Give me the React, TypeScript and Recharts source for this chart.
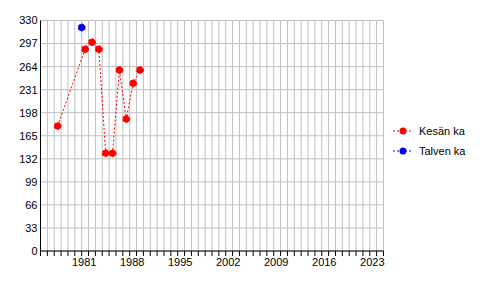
import { LineChart, Line, XAxis, YAxis, CartesianGrid } from 'recharts';

// kesän (summer) means, plotted mid-year
const summerYears = [1977, 1981, 1982, 1983, 1984, 1985, 1986, 1987, 1988, 1989];
const summerValues = [179, 289, 299, 289, 140, 140, 259, 189, 240, 259];
// talven (winter) means, plotted at the turn of the year
const winterYears = [1981];
const winterValues = [320];

const yTicks = [0, 33, 66, 99, 132, 165, 198, 231, 264, 297, 330];
const labelYears = [1981, 1988, 1995, 2002, 2009, 2016, 2023];
const firstYear = 1975;
const lastYear = 2025;

const yearTicks: number[] = [];
for (let y = firstYear; y <= lastYear; y++) yearTicks.push(y);

const summerData = summerYears.map((year, i) => ({ x: year + 0.5, value: summerValues[i] }));
const winterData = winterYears.map((year, i) => ({ x: year, value: winterValues[i] }));

const FONT = '"Liberation Sans", Arial, sans-serif';

const YearTick = (props: any) => {
  const { x, y, payload } = props;
  if (!labelYears.includes(payload.value)) return null;
  return (
    <text x={x + 2.5} y={y} dy="0.71em" textAnchor="middle" fontSize={11} fontFamily={FONT} fill="#000">
      {payload.value}
    </text>
  );
};

const legendItems = [
  { name: 'Kesän ka', color: '#ff0000' },
  { name: 'Talven ka', color: '#0000ff' },
];

const LegendBox = () => (
  <svg width={100} height={40} style={{ position: 'absolute', left: 391, top: 120.5 }}>
    {legendItems.map((item, i) => (
      <g key={item.name} transform={`translate(0, ${10 + i * 20})`}>
        <line x1={2} x2={22} y1={0} y2={0} stroke={item.color} strokeDasharray="2 2" />
        <circle cx={12} cy={0} r={3.5} fill={item.color} />
        <text x={28} y={0} dy="0.35em" fontSize={11} fontFamily={FONT} fill="#000">
          {item.name}
        </text>
      </g>
    ))}
  </svg>
);

const App = () => {
  return (
    <div style={{ position: 'absolute', left: 0, top: 0, width: 496, height: 296, background: '#fff' }}>
      <LineChart width={496} height={296} margin={{ top: 20.5, right: 112.5, left: 0, bottom: 15 }}>
        <CartesianGrid stroke="#c0c0c0" strokeWidth={1} />
        <XAxis
          type="number"
          dataKey="x"
          domain={[firstYear, lastYear]}
          ticks={yearTicks}
          interval={0}
          allowDataOverflow
          tick={<YearTick />}
          tickSize={5}
          tickMargin={2}
          height={30}
          axisLine={{ stroke: '#000' }}
          tickLine={{ stroke: '#000' }}
        />
        <XAxis
          xAxisId="top"
          orientation="top"
          type="number"
          domain={[firstYear, lastYear]}
          height={0}
          tick={false}
          tickLine={false}
          axisLine={{ stroke: '#000' }}
        />
        <YAxis
          domain={[0, 330]}
          ticks={yTicks}
          interval={0}
          width={40.5}
          tickLine={false}
          tickSize={0}
          tickMargin={3}
          axisLine={{ stroke: '#000' }}
          tick={{ fontSize: 11, fontFamily: FONT, fill: '#000' }}
        />
        <YAxis
          yAxisId="right"
          orientation="right"
          domain={[0, 330]}
          width={0}
          tick={false}
          tickLine={false}
          axisLine={{ stroke: '#000' }}
        />
        <Line
          data={summerData}
          dataKey="value"
          name="Kesän ka"
          type="linear"
          stroke="#ff0000"
          strokeWidth={1}
          strokeDasharray="2 2"
          dot={{ r: 3.5, fill: '#ff0000', stroke: '#ff0000', strokeWidth: 1 }}
          isAnimationActive={false}
        />
        <Line
          data={winterData}
          dataKey="value"
          name="Talven ka"
          type="linear"
          stroke="#0000ff"
          strokeWidth={1}
          strokeDasharray="2 2"
          dot={{ r: 3.5, fill: '#0000ff', stroke: '#0000ff', strokeWidth: 1 }}
          isAnimationActive={false}
        />
      </LineChart>
      <LegendBox />
    </div>
  );
};

export default App;
